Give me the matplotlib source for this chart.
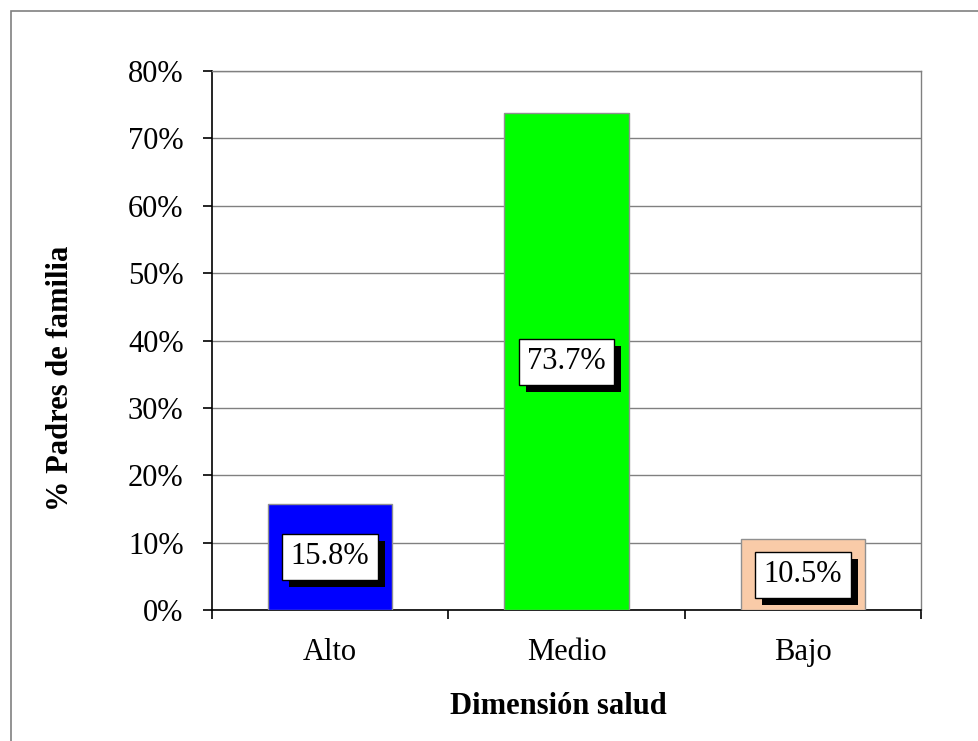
import matplotlib.pyplot as plt
import matplotlib.patches as patches
import matplotlib.patheffects as pe
from matplotlib.ticker import FuncFormatter

plt.rcParams['font.family'] = ['Liberation Serif', 'DejaVu Serif']

# ---- data ----
categories = ['Alto', 'Medio', 'Bajo']
values = [15.8, 73.7, 10.5]
bar_colors = ['#0000FF', '#00FF00', '#F9CBA8']
y_ticks = [0, 10, 20, 30, 40, 50, 60, 70, 80]

DPI = 100
FS = 22
fig = plt.figure(figsize=(9.79, 7.41), dpi=DPI, facecolor='white')

# outer chart-area frame (cropped on right and bottom)
fig.add_artist(patches.Rectangle((11 / 979, -0.05), 1.2, 1 - 11 / 741 + 0.05,
                                 transform=fig.transFigure, fill=False,
                                 edgecolor='#808080', linewidth=1.2))

ax = fig.add_axes([212 / 979, 131 / 741, 709 / 979, 539 / 741])
x = list(range(len(categories)))
ax.bar(x, values, width=0.525, color=bar_colors, edgecolor='#909090',
       linewidth=1, zorder=3)

ax.set_xlim(-0.5, len(categories) - 0.5)
ax.set_ylim(0, 80)
ax.set_yticks(y_ticks)
ax.yaxis.set_major_formatter(FuncFormatter(lambda v, p: f'{v:.0f}%'))
ax.grid(axis='y', color='#808080', linewidth=1, zorder=0)

ax.set_xticks(x)
ax.set_xticklabels(categories)
ax.set_xticks([-0.5, 0.5, 1.5, 2.5], minor=True)
ax.tick_params(axis='x', which='major', length=0, pad=20, labelsize=FS)
ax.tick_params(axis='x', which='minor', length=6.5, width=1.2, direction='out')
ax.tick_params(axis='y', length=6.5, width=1.2, direction='out', pad=14,
               labelsize=FS)

for side in ['top', 'right']:
    ax.spines[side].set_color('#808080')
    ax.spines[side].set_linewidth(1)
for side in ['left', 'bottom']:
    ax.spines[side].set_color('black')
    ax.spines[side].set_linewidth(1.2)

# data labels: white box with a black drop shadow
for xi, v in zip(x, values):
    t = ax.text(xi, v / 2, f'{v:.1f}%', ha='center', va='center',
                fontsize=FS, color='black', zorder=5,
                bbox=dict(boxstyle='square,pad=0.28', facecolor='white',
                          edgecolor='black', linewidth=1))
    t.get_bbox_patch().set_path_effects([
        pe.SimplePatchShadow(offset=(5, -5), shadow_rgbFace='black', alpha=1),
        pe.Normal()])

fig.text(61 / 979, 1 - 378 / 741, '% Padres de familia', rotation=90,
         ha='center', va='center', fontsize=FS, fontweight='bold')
fig.text(558 / 979, 1 - 706 / 741, 'Dimensión salud', ha='center',
         va='center', fontsize=FS, fontweight='bold')

fig.savefig('out.png', dpi=DPI, facecolor='white')
